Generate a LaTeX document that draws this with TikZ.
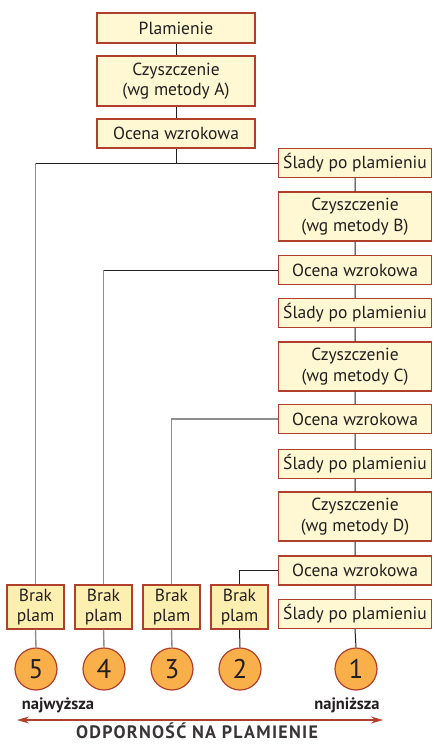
\documentclass[tikz,border=0pt]{standalone}
\usepackage{fontspec}
\setmainfont{PT Sans}
\newfontfamily\spacedfont[LetterSpace=7]{PT Sans}
\usepackage{tikz}
\usetikzlibrary{arrows.meta}
\definecolor{boxfill}{HTML}{FFF8D2}
\definecolor{brakfill}{HTML}{FDEFB0}
\definecolor{boxline}{HTML}{B0402C}
\definecolor{ringfill}{HTML}{F9B04A}
\definecolor{textgray}{HTML}{231F20}
\definecolor{lightlink}{HTML}{8E8E8E}
\newcommand{\boxfont}{\fontsize{17.5bp}{20.5bp}\selectfont}
\tikzstyle{stage}=[draw=boxline, fill=boxfill, line width=1.2bp, align=center, inner sep=0, font=\boxfont, text=textgray]
\tikzstyle{wide}=[stage, minimum width=158bp]
\tikzstyle{side}=[stage, minimum width=153bp]
\tikzstyle{brak}=[stage, fill=brakfill, minimum width=57bp, minimum height=44bp]
\tikzstyle{grade}=[circle, draw=boxline, fill=ringfill, line width=1.2bp, minimum size=42bp, inner sep=0, text=textgray, font=\fontsize{27bp}{30bp}\selectfont]
\tikzstyle{link}=[draw=textgray, line width=1bp]
\tikzstyle{pale}=[draw=lightlink, line width=1.4bp]
\tikzstyle{ends}=[font=\fontsize{16.5bp}{18bp}\selectfont\bfseries, text=textgray]

\begin{document}
\begin{tikzpicture}[x=1bp, y=-1bp]
        \useasboundingbox (0, 0) rectangle (434, 744);
        % main column
        \node[wide, minimum height=30bp] (plam) at (176, 28) {Plamienie};
        \node[wide, minimum height=50bp] (czA) at (176, 81) {Czyszczenie\\(wg metody A)};
        \node[wide, minimum height=29bp] (ocA) at (176, 133.5) {Ocena wzrokowa};
        % right column
        \node[side, minimum height=29bp] (sl1) at (355, 163) {Ślady po plamieniu};
        \node[side, minimum height=49bp] (czB) at (355, 216.5) {Czyszczenie\\(wg metody B)};
        \node[side, minimum height=29bp] (ocB) at (355, 270) {Ocena wzrokowa};
        \node[side, minimum height=29bp] (sl2) at (355, 313) {Ślady po plamieniu};
        \node[side, minimum height=49bp] (czC) at (355, 366.5) {Czyszczenie\\(wg metody C)};
        \node[side, minimum height=29bp] (ocC) at (355, 419) {Ocena wzrokowa};
        \node[side, minimum height=29bp] (sl3) at (355, 464) {Ślady po plamieniu};
        \node[side, minimum height=49bp] (czD) at (355, 516.5) {Czyszczenie\\(wg metody D)};
        \node[side, minimum height=29bp] (ocD) at (355, 570.5) {Ocena wzrokowa};
        \node[side, minimum height=29bp] (sl4) at (355, 614) {Ślady po plamieniu};
        % results
        \node[brak] (brak5) at (35.5, 607) {Brak\\plam};
        \node[brak] (brak4) at (103.5, 607) {Brak\\plam};
        \node[brak] (brak3) at (171.5, 607) {Brak\\plam};
        \node[brak] (brak2) at (239.5, 607) {Brak\\plam};
        \node[grade] (ode5) at (36, 669) {5};
        \node[grade] (ode4) at (104, 669) {4};
        \node[grade] (ode3) at (172, 669) {3};
        \node[grade] (ode2) at (240, 669) {2};
        \node[grade] (ode1) at (356, 669) {1};
        % connectors
        \path[link] (plam.south) -- (czA.north) (czA.south) -- (ocA.north)
                    (ocA.south) -- (ocA.south |- sl1.west);
        \path[link] (brak5.north |- sl1.west) -- (sl1.west);
        \path[pale] (brak5.north) -- (brak5.north |- sl1.west);
        \path[link] (sl1.south) -- (czB.north) (czB.south) -- (ocB.north) (ocB.south) -- (sl2.north)
                    (sl2.south) -- (czC.north) (czC.south) -- (ocC.north) (ocC.south) -- (sl3.north)
                    (sl3.south) -- (czD.north) (czD.south) -- (ocD.north) (ocD.south) -- (sl4.north)
                    (sl4.south) -- (ode1.north);
        \path[link] (brak4.north |- ocB.west) -- (ocB.west);
        \path[pale] (brak4.north) -- (brak4.north |- ocB.west);
        \path[pale] (brak3.north) |- (ocC.west);
        \path[link] (brak2.north) |- (ocD.west);
        \path[pale] (brak5.south) -- (ode5.north) (brak4.south) -- (ode4.north) (brak3.south) -- (ode3.north);
        \path[link] (brak2.south) -- (ode2.north);
        % scale
        \node[ends] (high) at (58, 705) {najwyższa};
        \node[ends] (low) at (347, 705) {najniższa};
        \coordinate (scaleL) at (17, 720);
        \coordinate (scaleR) at (383, 720);
        \draw[boxline, line width=1.5bp, {Stealth[length=12bp, width=7bp]}-{Stealth[length=12bp, width=7bp]}] (scaleL) -- (scaleR);
        \node[anchor=base, inner sep=0, font=\fontsize{18bp}{20bp}\spacedfont\bfseries, text=textgray!90] (axis) at (197, 738.5) {ODPORNOŚĆ NA PLAMIENIE};
    \end{tikzpicture}
\end{document}
